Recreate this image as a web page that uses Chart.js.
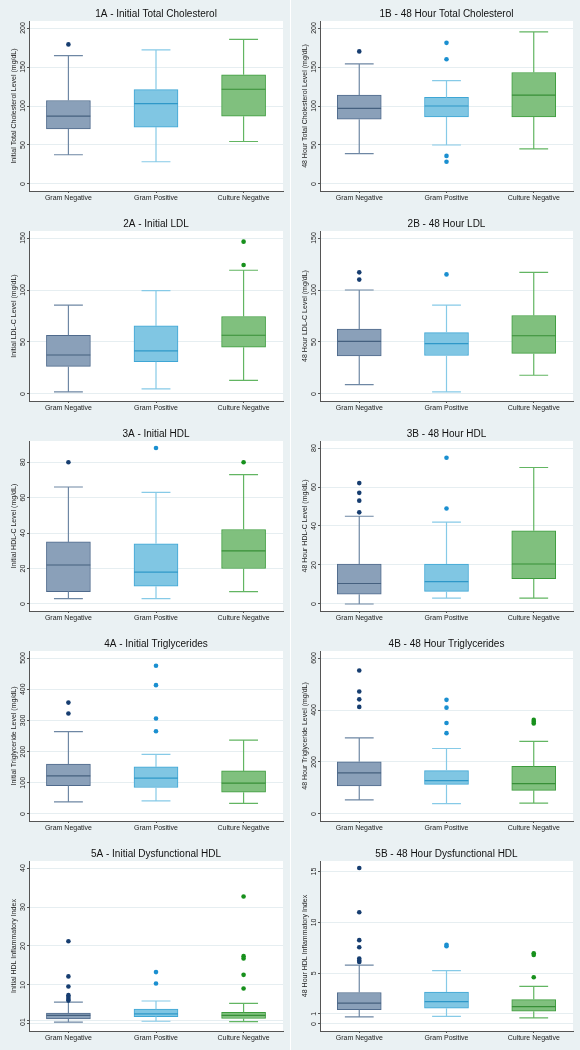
<!DOCTYPE html>
<html>
<head>
<meta charset="utf-8">
<script src="https://cdn.jsdelivr.net/npm/chart.js@4.4.1/dist/chart.umd.min.js"></script>
<style>
html, body { margin: 0; padding: 0; background: #fff; }
#grid { display: grid; grid-template-columns: 290px 290px; grid-auto-rows: 210px; width: 580px; }
.cell { background: #eaf1f3; }
.cell:nth-child(even) { border-left: 1px solid #fff; }
canvas { display: block; }
</style>
</head>
<body>
<div id="grid"></div>
<script>
// Groups on the x axis
const groups = ['Gram Negative', 'Gram Positive', 'Culture Negative'];

// Box summaries per group: [lower whisker, q1, median, q3, upper whisker]
const initTC = [[37.5, 70.5, 87, 107, 164.5], [28.5, 73, 103, 121, 172], [54.5, 87, 121.5, 140, 185.5]];
const initTCOut = [[179], [], []];
const hourTC = [[39, 83, 97, 114, 154], [50, 86, 100, 111, 132.5], [45, 86, 114, 143, 195]];
const hourTCOut = [[170], [181, 160, 36, 28.5], []];

const initLDL = [[2, 26.5, 37.5, 56.5, 85.5], [5, 31, 41.5, 65.5, 99.5], [13, 45, 56.5, 74.5, 119]];
const initLDLOut = [[], [], [146.5, 124]];
const hourLDL = [[9, 36.5, 50.5, 62.5, 100], [2, 37, 48.5, 59, 85.5], [18, 39, 56, 75.5, 117]];
const hourLDLOut = [[117, 110], [115], []];

const initHDL = [[3, 7, 22, 35, 66], [3, 10, 18, 34, 63], [7, 20, 30, 42, 73]];
const initHDLOut = [[80], [88], [80]];
const hourHDL = [[0, 5, 10.5, 20.5, 45], [3, 6.5, 11.5, 20.5, 42], [3, 13, 20.5, 37.5, 70]];
const hourHDLOut = [[62, 57, 53, 47], [75, 49], []];

const initTG = [[39, 91, 122, 160, 264], [42, 85, 115, 151, 191], [34, 70, 99, 138, 237]];
const initTGOut = [[357, 322], [475, 413, 306, 265], []];
const hourTG = [[54, 108, 158, 201, 293], [40, 114, 128, 167, 252], [42, 91, 117, 183, 279]];
const hourTGOut = [[552, 471, 441, 412], [439, 409, 350, 311], [362, 355, 348]];

const initDys = [[0.5, 1.3, 2.2, 2.8, 5.6], [0.7, 1.9, 2.6, 3.8, 5.9], [0.6, 1.4, 2.2, 3.0, 5.3]];
const initDysOut = [[21.2, 12.2, 9.6, 7.4, 6.9, 6.4, 6.0], [13.3, 10.4], [32.7, 17.4, 16.8, 12.6, 9.1]];
const hourDys = [[0.7, 1.4, 2.05, 3.1, 5.8], [0.75, 1.55, 2.2, 3.15, 5.25], [0.6, 1.25, 1.7, 2.4, 3.7]];
const hourDysOut = [[15.35, 11, 8.25, 7.55, 6.45, 6.25, 6.1], [7.8, 7.65], [6.95, 6.8, 4.6]];

// Tick values per panel
const ticksTC = [0, 50, 100, 150, 200];
const ticksLDL = [0, 50, 100, 150];
const ticksHDL = [0, 20, 40, 60, 80];
const ticksTGInit = [0, 100, 200, 300, 400, 500];
const ticksTGHour = [0, 200, 400, 600];
const ticksDysInit = [0, 1, 10, 20, 30, 40];
const ticksDysHour = [0, 1, 5, 10, 15];

const panels = [
    { title: '1A - Initial Total Cholesterol', yTitle: 'Initial Total Cholesterol Level (mg/dL)', stats: initTC, out: initTCOut, ticks: ticksTC },
    { title: '1B - 48 Hour Total Cholesterol', yTitle: '48 Hour Total Cholesterol Level (mg/dL)', stats: hourTC, out: hourTCOut, ticks: ticksTC },
    { title: '2A - Initial LDL', yTitle: 'Initial LDL-C Level (mg/dL)', stats: initLDL, out: initLDLOut, ticks: ticksLDL },
    { title: '2B - 48 Hour LDL', yTitle: '48 Hour LDL-C Level (mg/dL)', stats: hourLDL, out: hourLDLOut, ticks: ticksLDL },
    { title: '3A - Initial HDL', yTitle: 'Initial HDL-C Level (mg/dL)', stats: initHDL, out: initHDLOut, ticks: ticksHDL },
    { title: '3B - 48 Hour HDL', yTitle: '48 Hour HDL-C Level (mg/dL)', stats: hourHDL, out: hourHDLOut, ticks: ticksHDL },
    { title: '4A - Initial Triglycerides', yTitle: 'Initial Triglyceride Level (mg/dL)', stats: initTG, out: initTGOut, ticks: ticksTGInit },
    { title: '4B - 48 Hour Triglycerides', yTitle: '48 Hour Triglyceride Level (mg/dL)', stats: hourTG, out: hourTGOut, ticks: ticksTGHour },
    { title: '5A - Initial Dysfunctional HDL', yTitle: 'Initial HDL Inflammatory Index', stats: initDys, out: initDysOut, ticks: ticksDysInit },
    { title: '5B - 48 Hour Dysfunctional HDL', yTitle: '48 Hour HDL Inflammatory Index', stats: hourDys, out: hourDysOut, ticks: ticksDysHour }
];

// Colours per group
const boxFill = ['#8aa0b9', '#80c6e3', '#80c07e'];
const boxEdge = ['#4f6a8c', '#3ea6d5', '#3d9c3d'];
const medianColor = ['#45607f', '#2f98c8', '#378f37'];
const whiskerColor = ['#6e87a4', '#86cae7', '#62b562'];
const dotColor = ['#163d70', '#1a8fd0', '#17901c'];

const FONT = 'Liberation Sans, Arial, sans-serif';
const BOX_HALF = 0.25;
const CAP_HALF = 0.165;

Chart.defaults.font.family = FONT;
Chart.defaults.color = '#222';

// White plot region
const plotBg = {
    id: 'plotBg',
    beforeDraw(chart) {
        const a = chart.chartArea;
        const ctx = chart.ctx;
        ctx.save();
        ctx.fillStyle = '#fff';
        ctx.fillRect(a.left, a.top, a.right - a.left, a.bottom - a.top);
        ctx.restore();
    }
};

function buildDatasets(stats, outliers) {
    const sets = [{
        type: 'bar',
        order: 3,
        data: stats.map((s, i) => ({ x: i, y: [s[1], s[3]] })),
        backgroundColor: boxFill,
        borderColor: boxEdge,
        borderWidth: 1,
        borderSkipped: false,
        barThickness: 44
    }];
    stats.forEach((s, i) => {
        const [lo, q1, med, q3, hi] = s;
        sets.push({
            type: 'line',
            order: 2,
            data: [
                { x: i, y: q3 }, { x: i, y: hi }, { x: i, y: null },
                { x: i - CAP_HALF, y: hi }, { x: i + CAP_HALF, y: hi }, { x: i, y: null },
                { x: i, y: q1 }, { x: i, y: lo }, { x: i, y: null },
                { x: i - CAP_HALF, y: lo }, { x: i + CAP_HALF, y: lo }
            ],
            borderColor: whiskerColor[i],
            borderWidth: 1.2,
            pointRadius: 0,
            spanGaps: false,
            fill: false
        });
        sets.push({
            type: 'line',
            order: 1,
            data: [{ x: i - BOX_HALF, y: med }, { x: i + BOX_HALF, y: med }],
            borderColor: medianColor[i],
            borderWidth: 1.2,
            pointRadius: 0,
            fill: false
        });
        sets.push({
            type: 'scatter',
            order: 0,
            data: outliers[i].map(v => ({ x: i, y: v })),
            backgroundColor: dotColor[i],
            borderWidth: 0,
            pointRadius: 2.3
        });
    });
    return sets;
}

const measure = document.createElement('canvas').getContext('2d');
measure.font = '7px ' + FONT;

const grid = document.getElementById('grid');

panels.forEach((p, idx) => {
    const cell = document.createElement('div');
    cell.className = 'cell';
    const canvas = document.createElement('canvas');
    canvas.width = idx % 2 ? 289 : 290;
    canvas.height = 210;
    cell.appendChild(canvas);
    grid.appendChild(cell);

    // axis range: ticks and data, plus a small margin
    const values = p.stats.flat().concat(p.out.flat()).concat(p.ticks);
    const lo = Math.min(...values);
    const hi = Math.max(...values);
    const margin = (hi - lo) * 0.045;

    const widest = Math.max(...p.ticks.map(t => measure.measureText(String(t)).width));

    new Chart(canvas, {
        type: 'scatter',
        data: { datasets: buildDatasets(p.stats, p.out) },
        plugins: [plotBg],
        options: {
            responsive: false,
            animation: false,
            layout: { padding: { left: 0, right: 7, top: 0, bottom: 0 } },
            plugins: {
                legend: { display: false },
                tooltip: { enabled: false },
                title: {
                    display: true,
                    text: p.title,
                    fullSize: false,
                    color: '#111',
                    font: { size: 10, weight: 'normal' },
                    padding: { top: 8, bottom: 1 }
                }
            },
            scales: {
                x: {
                    type: 'linear',
                    min: -0.45,
                    max: 2.45,
                    offset: false,
                    afterBuildTicks: s => { s.ticks = [0, 1, 2].map(v => ({ value: v })); },
                    afterFit: s => { s.height = 19; },
                    border: { color: '#555', width: 1 },
                    grid: { drawOnChartArea: false, tickLength: 2, tickColor: '#555', offset: false },
                    ticks: {
                        autoSkip: false, minRotation: 0, maxRotation: 0, padding: 1,
                        font: { size: 7 }, color: '#222',
                        callback: v => groups[v]
                    }
                },
                y: {
                    min: lo - margin,
                    max: hi + margin,
                    afterBuildTicks: s => { s.ticks = p.ticks.map(v => ({ value: v })); },
                    afterFit: s => { s.width = 29; },
                    border: { color: '#555', width: 1 },
                    grid: { color: '#e6eef1', lineWidth: 1, tickLength: 2, tickColor: '#555' },
                    ticks: {
                        autoSkip: false, minRotation: 90, maxRotation: 90,
                        crossAlign: 'center', padding: 3.7 - widest / 2,
                        font: { size: 7 }, color: '#222',
                        callback: v => v
                    },
                    title: {
                        display: true,
                        text: p.yTitle,
                        color: '#222',
                        font: { size: 7 },
                        padding: { top: 9.5, bottom: 0 }
                    }
                }
            }
        }
    });
});
</script>
</body>
</html>
